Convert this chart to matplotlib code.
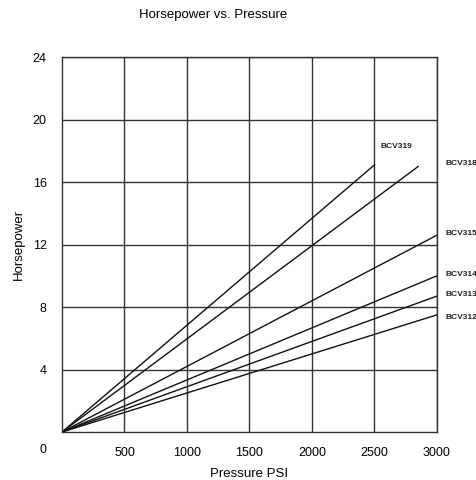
import matplotlib.pyplot as plt

plt.rcParams["font.family"] = ["Liberation Sans", "DejaVu Sans"]

# model names and their end points (pressure psi, horsepower)
models = ["BCV319", "BCV318", "BCV315", "BCV314", "BCV313", "BCV312"]
end_psi = [2500, 2850, 3000, 3000, 3000, 3000]
end_hp = [17.1, 17.0, 12.6, 10.0, 8.7, 7.5]
label_psi = [2550, 3065, 3065, 3065, 3065, 3065]
label_hp = [18.3, 17.2, 12.7, 10.1, 8.8, 7.3]

x_ticks = [500, 1000, 1500, 2000, 2500, 3000]
y_ticks = [4, 8, 12, 16, 20, 24]

fig = plt.figure(figsize=(4.77, 4.8), dpi=100)
ax = fig.add_axes([0.130, 0.100, 0.786, 0.781])

for name, px, hp, lx, ly in zip(models, end_psi, end_hp, label_psi, label_hp):
    ax.plot([0, px], [0, hp], color="#111111", linewidth=1.0)
    ax.text(lx, ly, name, fontsize=6, fontweight="bold", color="#222222",
            ha="left", va="center", clip_on=False)

ax.set_xlim(0, 3000)
ax.set_ylim(0, 24)
ax.set_xticks(x_ticks)
ax.set_yticks(y_ticks)
ax.tick_params(length=0, labelsize=9, pad=11)
ax.grid(True, color="#333333", linewidth=1.0)
for sp in ax.spines.values():
    sp.set_color("#333333")
    sp.set_linewidth(1.0)

# shared zero label at the corner
ax.annotate("0", xy=(0, 0), xytext=(-19, -18), textcoords="offset pixels",
            fontsize=9, ha="center", va="center", annotation_clip=False)

ax.set_xlabel("Pressure PSI", fontsize=9.5, labelpad=6)
ax.set_ylabel("Horsepower", fontsize=9.5, labelpad=6)
fig.text(0.447, 0.968, "Horsepower vs. Pressure", fontsize=9.5,
         ha="center", va="center")

fig.savefig("out.png", dpi=100)
